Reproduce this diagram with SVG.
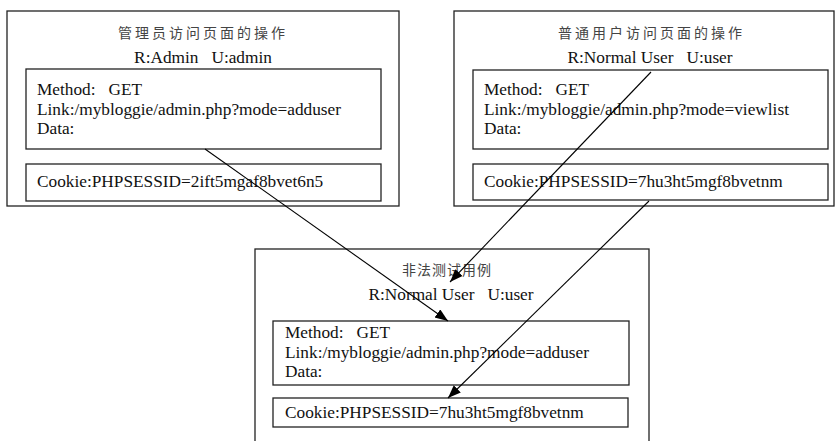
<svg xmlns="http://www.w3.org/2000/svg" width="836" height="441" viewBox="0 0 836 441">
<style>
.box{fill:#fff;stroke:#222;stroke-width:1.3}
.t{font-family:"Liberation Serif","Times New Roman",serif;font-size:17.3px;fill:#111}
.cj{font-family:"Noto Sans CJK SC","Noto Sans",sans-serif;font-size:14px;fill:#444;letter-spacing:3px}
.ln{stroke:#000;stroke-width:1.1;fill:none;marker-end:url(#ah)}
</style>
<defs>
<marker id="ah" markerUnits="userSpaceOnUse" markerWidth="14" markerHeight="11" refX="13" refY="5" orient="auto">
<path d="M0,0 L13,5 L0,10 z" fill="#000"/>
</marker>
</defs>
<rect width="836" height="441" fill="#fff"/>
<g id="admin-node">
<rect class="box" x="7" y="11" width="392" height="195"/>
<text class="cj" x="118" y="38">管理员访问页面的操作</text>
<text class="t" x="203" y="63" text-anchor="middle" xml:space="preserve">R:Admin   U:admin</text>
<rect class="box" x="26" y="69" width="355" height="80"/>
<text class="t" x="37" y="95" xml:space="preserve">Method:   GET</text>
<text class="t" x="37" y="115">Link:/mybloggie/admin.php?mode=adduser</text>
<text class="t" x="37" y="134">Data:</text>
<rect class="box" x="26" y="164" width="355" height="37"/>
<text class="t" x="37" y="187">Cookie:PHPSESSID=2ift5mgaf8bvet6n5</text>
</g>
<g id="user-node">
<rect class="box" x="454" y="11" width="380" height="195"/>
<text class="cj" x="558" y="38">普通用户访问页面的操作</text>
<text class="t" x="650" y="63" text-anchor="middle" xml:space="preserve">R:Normal User   U:user</text>
<rect class="box" x="473" y="70" width="355" height="79"/>
<text class="t" x="484" y="95" xml:space="preserve">Method:   GET</text>
<text class="t" x="484" y="115">Link:/mybloggie/admin.php?mode=viewlist</text>
<text class="t" x="484" y="134">Data:</text>
<rect class="box" x="473" y="164" width="355" height="36"/>
<text class="t" x="484" y="187">Cookie:PHPSESSID=7hu3ht5mgf8bvetnm</text>
</g>
<g id="illegal-node">
<rect class="box" x="255" y="249" width="394" height="200"/>
<text class="cj" x="402" y="275" style="letter-spacing:1px">非法测试用例</text>
<text class="t" x="451" y="300" text-anchor="middle" xml:space="preserve">R:Normal User   U:user</text>
<rect class="box" x="273" y="321" width="356" height="64"/>
<text class="t" x="285" y="338" xml:space="preserve">Method:   GET</text>
<text class="t" x="285" y="358">Link:/mybloggie/admin.php?mode=adduser</text>
<text class="t" x="285" y="377">Data:</text>
<rect class="box" x="273" y="398" width="355" height="29"/>
<text class="t" x="285" y="418">Cookie:PHPSESSID=7hu3ht5mgf8bvetnm</text>
</g>
<g id="connectors">
<line class="ln" x1="205" y1="149" x2="448" y2="321"/>
<line class="ln" x1="651" y1="72" x2="450" y2="282"/>
<line class="ln" x1="649" y1="201" x2="448" y2="398"/>
</g>
</svg>
